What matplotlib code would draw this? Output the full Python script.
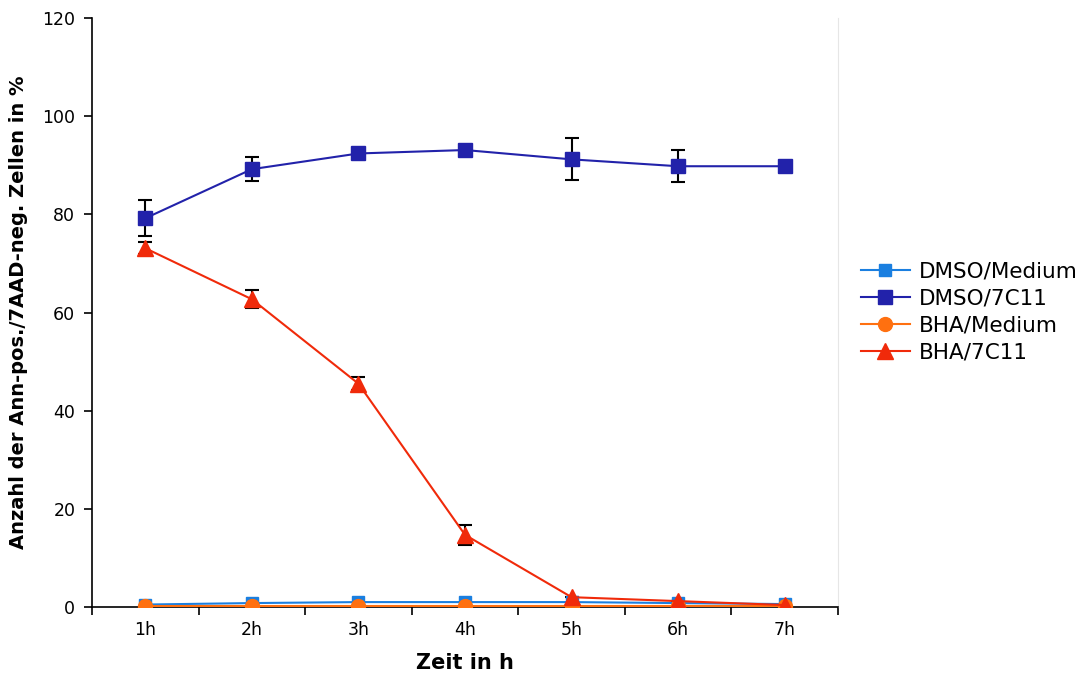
import matplotlib
matplotlib.use("Agg")
import matplotlib.pyplot as plt
import numpy as np

categories = ["1h", "2h", "3h", "4h", "5h", "6h", "7h"]
dmso_medium = [0.5, 0.8, 1.0, 1.0, 1.0, 0.8, 0.6]
dmso_7c11 = [79.2, 89.2, 92.4, 93.1, 91.2, 89.8, 89.8]
dmso_7c11_err = [3.7, 2.4, 0.0, 0.0, 4.3, 3.3, 0.0]
bha_medium = [0.2, 0.2, 0.2, 0.2, 0.2, 0.2, 0.2]
bha_7c11 = [73.1, 62.7, 45.5, 14.7, 2.0, 1.2, 0.4]
bha_7c11_err = [1.2, 1.8, 1.3, 2.1, 0.0, 0.0, 0.0]

plt.rcParams['font.family'] = ['DejaVu Sans']
fig = plt.figure(figsize=(10.91, 6.73), dpi=100)
ax = fig.add_axes([92/1091, 1-607/673, (838-92)/1091, (607-18)/673])

x = np.arange(len(categories)) + 0.5

c_dm, c_d7, c_bm, c_b7 = "#1a7fe0", "#2222aa", "#ff7010", "#f02a0a"

l1, = ax.plot(x, dmso_medium, color=c_dm, marker="s", markersize=9, lw=1.5,
              label="DMSO/Medium", zorder=3)
ax.errorbar(x, dmso_7c11, yerr=dmso_7c11_err, fmt="none", ecolor="black",
            elinewidth=1.5, capsize=5, capthick=1.5, zorder=2)
l2, = ax.plot(x, dmso_7c11, color=c_d7, marker="s", markersize=10, lw=1.5,
              label="DMSO/7C11", zorder=3)
l3, = ax.plot(x, bha_medium, color=c_bm, marker="o", markersize=10, lw=1.5,
              label="BHA/Medium", zorder=4)
ax.errorbar(x, bha_7c11, yerr=bha_7c11_err, fmt="none", ecolor="black",
            elinewidth=1.5, capsize=5, capthick=1.5, zorder=2)
l4, = ax.plot(x, bha_7c11, color=c_b7, marker="^", markersize=11, lw=1.5,
              label="BHA/7C11", zorder=5)

ax.set_xlim(0, 7)
ax.set_ylim(0, 120)
ax.set_yticks(np.arange(0, 121, 20))
ax.set_xticks(np.arange(0, 8))
ax.set_xticklabels([])
ax.set_xticks(x, minor=True)
ax.set_xticklabels(categories, minor=True, fontsize=12.5)
ax.tick_params(axis="x", which="minor", length=0, pad=10)
ax.tick_params(axis="x", which="major", direction="out", length=6, width=1.2)
ax.tick_params(axis="y", direction="out", length=6, width=1.2, labelsize=12.5, pad=6)

ax.spines["top"].set_visible(False)
ax.spines["right"].set_color("#e6e6e6")
ax.spines["left"].set_linewidth(1.2)
ax.spines["bottom"].set_linewidth(1.2)

ax.set_xlabel("Zeit in h", fontsize=15, fontweight="bold", labelpad=10)
ax.set_ylabel("Anzahl der Ann-pos./7AAD-neg. Zellen in %", fontsize=14,
              fontweight="bold", labelpad=10)

fig.legend([l1, l2, l3, l4], [l.get_label() for l in (l1, l2, l3, l4)],
           loc="center left", bbox_to_anchor=(852/1091, 1-312/673),
           frameon=False, fontsize=15.5, handlelength=2.3, labelspacing=0.33,
           handletextpad=0.4, borderaxespad=0)

fig.savefig("out.png", dpi=100)
